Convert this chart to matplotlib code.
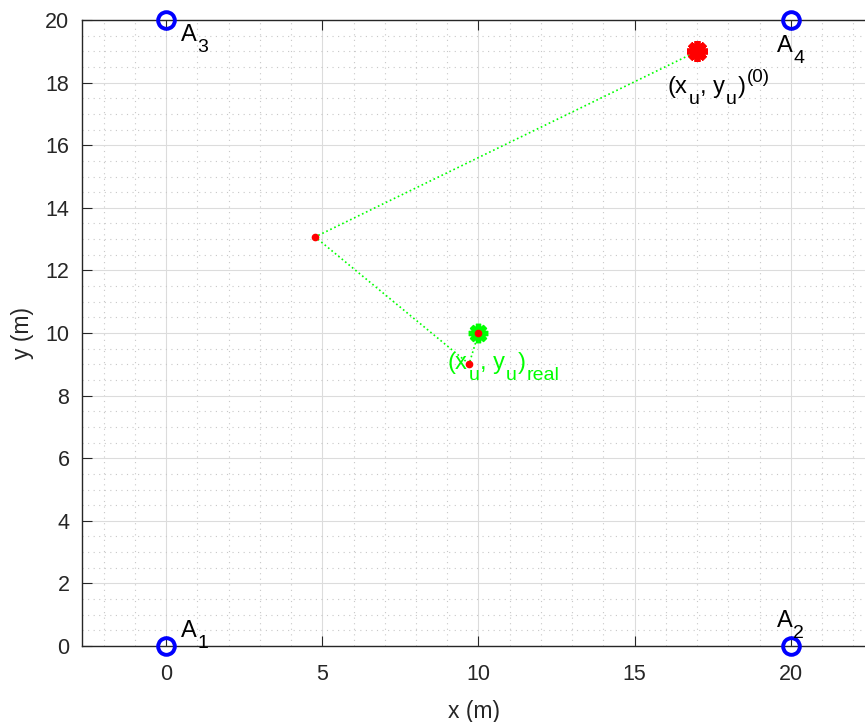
import matplotlib
matplotlib.use("Agg")
import matplotlib.pyplot as plt
from matplotlib.ticker import MultipleLocator
from matplotlib.transforms import offset_copy

plt.rcParams['font.family'] = ['Liberation Sans', 'DejaVu Sans']

# Anchors
anchor_x = [0, 20, 0, 20]
anchor_y = [0, 0, 20, 20]
anchor_names = ['1', '2', '3', '4']
anchor_label_x = [0.48, 19.55, 0.48, 19.55]
anchor_label_y = [0.29, 0.61, 19.33, 18.98]

# Iterative estimate path
iter_x = [17.0, 4.77, 9.70, 10.0]
iter_y = [19.0, 13.07, 9.01, 10.0]

# Initial and real positions
init_x, init_y = 17.0, 19.0
real_x, real_y = 10.0, 10.0

MAIN = 17
SUB = 14
SUP = 13.5

fig = plt.figure(figsize=(8.65, 7.22), dpi=100)
ax = fig.add_axes([82/865, 1-646/722, 1-82/865, (646-20)/722])

ax.set_xlim(-2.69, 22.37)
ax.set_ylim(0, 20)

ax.xaxis.set_major_locator(MultipleLocator(5))
ax.xaxis.set_minor_locator(MultipleLocator(1))
ax.yaxis.set_major_locator(MultipleLocator(2))
ax.yaxis.set_minor_locator(MultipleLocator(0.5))
ax.grid(which='major', color='#dcdcdc', linewidth=0.8, zorder=0)
ax.grid(which='minor', color='#c8c8c8', linestyle=(0, (1, 4)), linewidth=0.8, zorder=0)
ax.set_axisbelow(True)

axcol = '#262626'
for s in ['left', 'bottom', 'top']:
    ax.spines[s].set_color(axcol)
    ax.spines[s].set_linewidth(1.0)
ax.spines['right'].set_visible(False)
ax.tick_params(which='major', direction='in', length=7, color=axcol, labelsize=15.5,
               labelcolor=axcol, top=True, right=False)
ax.tick_params(axis='x', which='major', pad=13)
ax.tick_params(axis='y', which='major', pad=9)
ax.tick_params(which='minor', length=0)

# path
ax.plot(iter_x, iter_y, linestyle=':', color=(0, 1, 0), linewidth=1.2, zorder=3)
ax.plot(real_x, real_y, marker=(8, 2, 0), color=(0, 1, 0), markersize=14, mew=3.8,
        linestyle='none', zorder=4)
ax.plot(init_x, init_y, marker=(8, 2, 0), color='red', markersize=15, mew=4.2,
        linestyle='none', zorder=4)
ax.plot(iter_x, iter_y, marker='.', color='red', markersize=9, linestyle='none', zorder=5)

ax.plot(anchor_x, anchor_y, marker='o', linestyle='none', markerfacecolor='none',
        markeredgecolor='blue', markersize=12, mew=2.8, zorder=6, clip_on=False)

renderer = fig.canvas.get_renderer()


def rich_text(x, y, parts, color):
    """parts: list of (string, kind) with kind in 'n', 'sub', 'sup'."""
    dx = 0.0
    for s, kind in parts:
        if kind == 'n':
            size, dy = MAIN, 0.0
        elif kind == 'sub':
            size, dy = SUB, -11.0
        else:
            size, dy = SUP, 11.0
        tr = offset_copy(ax.transData, fig=fig, x=dx, y=dy, units='dots')
        t = ax.text(x, y, s, fontsize=size, ha='left', va='baseline', color=color,
                    transform=tr, zorder=7)
        dx += t.get_window_extent(renderer).width + 0.8


for lx, ly, n in zip(anchor_label_x, anchor_label_y, anchor_names):
    rich_text(lx, ly, [('A', 'n'), (n, 'sub')], 'black')

rich_text(16.06, 17.67, [('(x', 'n'), ('u', 'sub'), (', y', 'n'), ('u', 'sub'),
                         (')', 'n'), ('(0)', 'sup')], 'black')
rich_text(9.02, 8.85, [('(x', 'n'), ('u', 'sub'), (', y', 'n'), ('u', 'sub'),
                       (')', 'n'), ('real', 'sub')], (0, 1, 0))

ax.set_xlabel('x (m)', fontsize=16.5, color=axcol, labelpad=11)
ax.set_ylabel('y (m)', fontsize=16.5, color=axcol, labelpad=8)

fig.savefig('out.png', dpi=100)
